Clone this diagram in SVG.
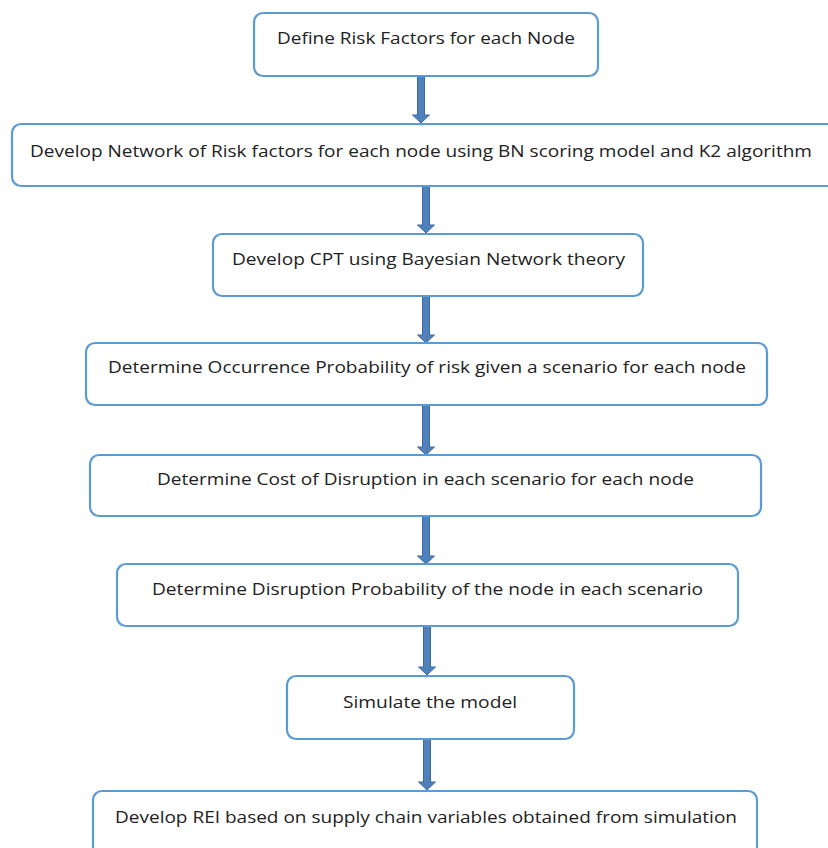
<svg xmlns="http://www.w3.org/2000/svg" width="828" height="848" viewBox="0 0 828 848">
<defs>
<style>
.box{fill:#ffffff;stroke:#5b9bd5;stroke-width:2.2}
.lbl{font-family:"Open Sans","Liberation Sans",sans-serif;font-size:17px;fill:#222222;text-anchor:middle}
.arr{fill:#4f81bd;stroke:#3b6aa0;stroke-width:1}
</style>
</defs>
<rect width="828" height="848" fill="#ffffff"/>
<g id="connectors">
<path class="arr" d="M417.5,76 h7 v39 h5 l-8.5,8 l-8.5,-8 h5 z"/>
<path class="arr" d="M422.5,186 h7 v39 h5 l-8.5,8 l-8.5,-8 h5 z"/>
<path class="arr" d="M422.5,296 h7 v39 h5 l-8.5,8 l-8.5,-8 h5 z"/>
<path class="arr" d="M422.5,405 h7 v42 h5 l-8.5,8 l-8.5,-8 h5 z"/>
<path class="arr" d="M422.5,516 h7 v40 h5 l-8.5,8 l-8.5,-8 h5 z"/>
<path class="arr" d="M423.5,626 h7 v41 h5 l-8.5,8 l-8.5,-8 h5 z"/>
<path class="arr" d="M423.5,739 h7 v43 h5 l-8.5,8 l-8.5,-8 h5 z"/>
</g>
<g id="n1"><rect class="box" x="254" y="13" width="344" height="63" rx="9"/><text class="lbl" x="426" y="44" textLength="298" lengthAdjust="spacingAndGlyphs">Define Risk Factors for each Node</text></g>
<g id="n2"><rect class="box" x="12" y="124" width="830" height="62" rx="9"/><text class="lbl" x="421" y="157" textLength="782" lengthAdjust="spacingAndGlyphs">Develop Network of Risk factors for each node using BN scoring model and K2 algorithm</text></g>
<g id="n3"><rect class="box" x="213" y="234" width="430" height="62" rx="9"/><text class="lbl" x="428.5" y="265" textLength="393" lengthAdjust="spacingAndGlyphs">Develop CPT using Bayesian Network theory</text></g>
<g id="n4"><rect class="box" x="86" y="343" width="681" height="62" rx="9"/><text class="lbl" x="427" y="373" textLength="638" lengthAdjust="spacingAndGlyphs">Determine Occurrence Probability of risk given a scenario for each node</text></g>
<g id="n5"><rect class="box" x="90" y="455" width="671" height="61" rx="9"/><text class="lbl" x="425.5" y="485" textLength="537" lengthAdjust="spacingAndGlyphs">Determine Cost of Disruption in each scenario for each node</text></g>
<g id="n6"><rect class="box" x="117" y="564" width="621" height="62" rx="9"/><text class="lbl" x="427.5" y="595" textLength="551" lengthAdjust="spacingAndGlyphs">Determine Disruption Probability of the node in each scenario</text></g>
<g id="n7"><rect class="box" x="287" y="676" width="287" height="63" rx="9"/><text class="lbl" x="430" y="708" textLength="174" lengthAdjust="spacingAndGlyphs">Simulate the model</text></g>
<g id="n8"><rect class="box" x="93" y="791" width="664" height="70" rx="9"/><text class="lbl" x="426" y="823" textLength="622" lengthAdjust="spacingAndGlyphs">Develop REI based on supply chain variables obtained from simulation</text></g>
</svg>
